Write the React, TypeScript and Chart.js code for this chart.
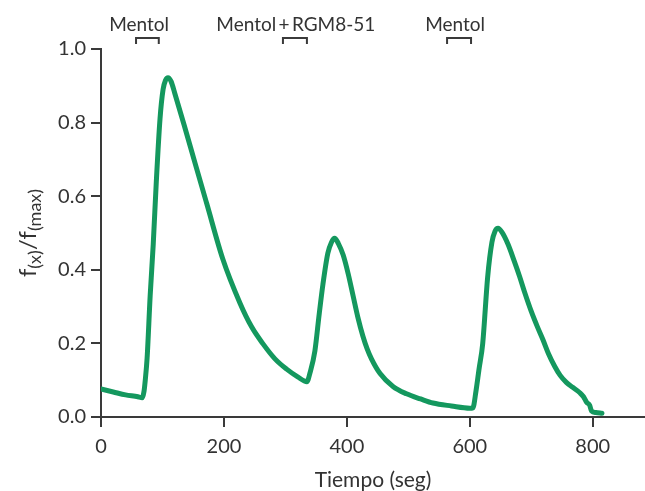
import React, { useEffect, useRef } from "react";
import { Chart, registerables } from "chart.js";

Chart.register(...registerables);

// Time (s) and normalized fluorescence f(x)/f(max)
const timeSec = [
  0, 20, 40, 60, 67, 70, 72, 75, 80, 85, 90, 96, 101, 105, 109, 114, 120, 135, 153, 172,
  198, 226, 245, 263, 283, 302, 320, 335, 340, 348, 355, 361, 369, 375, 380, 386, 394, 402,
  410, 418, 426, 433, 440, 454, 475, 497, 520, 540, 570, 600, 605, 610, 615, 621, 629, 636, 641,
  646, 652, 662, 672, 681, 690, 700, 710, 719, 728, 738, 747, 757, 768, 779, 785, 790, 795,
  798, 805, 815,
];
const ratio = [
  0.076, 0.068, 0.06, 0.055, 0.052, 0.07, 0.1, 0.16, 0.33, 0.47, 0.64, 0.81, 0.89, 0.915,
  0.922, 0.912, 0.88, 0.795, 0.69, 0.58, 0.43, 0.31, 0.245, 0.2, 0.158, 0.13, 0.109, 0.096,
  0.12, 0.18, 0.28, 0.36, 0.445, 0.475, 0.486, 0.472, 0.44, 0.39, 0.33, 0.27, 0.22, 0.185,
  0.158, 0.118, 0.083, 0.063, 0.049, 0.038, 0.03, 0.024, 0.025, 0.07, 0.13, 0.2, 0.38, 0.475,
  0.505, 0.513, 0.503, 0.47, 0.425, 0.382, 0.335, 0.287, 0.245, 0.21, 0.172, 0.138, 0.113,
  0.094, 0.08, 0.066, 0.055, 0.04, 0.032, 0.016, 0.012, 0.01,
];

const xTickValues = [0, 200, 400, 600, 800];
const yTickValues = [0, 0.2, 0.4, 0.6, 0.8, 1.0];

// Stimulus application windows (s) and their labels
const stimStart = [57, 296, 563];
const stimEnd = [94, 335, 602];
const stimLabels = ["Mentol", "Mentol\u2009+\u2009RGM8-51", "Mentol"];
const stimLabelCenter = [62, 317, 576];

const FONT = "Lato, 'Open Sans', sans-serif";
const TEXT = "#333333";
const AXIS = "#3a3a3a";
const GREEN = "#14985E";

const annotPlugin = {
  id: "annot",
  afterDraw(chart: any) {
    const { ctx, chartArea } = chart;
    const x = chart.scales.x;
    ctx.save();
    // brackets
    ctx.strokeStyle = AXIS;
    ctx.lineWidth = 2;
    for (let i = 0; i < stimStart.length; i++) {
      const a = x.getPixelForValue(stimStart[i]);
      const b = x.getPixelForValue(stimEnd[i]);
      ctx.beginPath();
      ctx.moveTo(a, 44);
      ctx.lineTo(a, 38);
      ctx.lineTo(b, 38);
      ctx.lineTo(b, 44);
      ctx.stroke();
    }
    ctx.fillStyle = TEXT;
    ctx.font = `19px ${FONT}`;
    ctx.textAlign = "center";
    ctx.textBaseline = "alphabetic";
    for (let i = 0; i < stimLabels.length; i++) {
      ctx.fillText(stimLabels[i], x.getPixelForValue(stimLabelCenter[i]), 31);
    }
    // x title
    ctx.font = `21px ${FONT}`;
    ctx.fillText("Tiempo (seg)", (chartArea.left + chartArea.right) / 2, 487);

    // y title with subscripts
    const pieces = [
      { t: "f", sub: false },
      { t: "(x)", sub: true },
      { t: "/f", sub: false },
      { t: "(max)", sub: true },
    ];
    const mainFont = `24px ${FONT}`;
    const subFont = `18px ${FONT}`;
    let total = 0;
    const widths: number[] = [];
    for (const p of pieces) {
      ctx.font = p.sub ? subFont : mainFont;
      const w = ctx.measureText(p.t).width;
      widths.push(w);
      total += w;
    }
    ctx.translate(36, (chartArea.top + chartArea.bottom) / 2);
    ctx.rotate(-Math.PI / 2);
    ctx.textAlign = "left";
    let pos = -total / 2;
    pieces.forEach((p, i) => {
      ctx.font = p.sub ? subFont : mainFont;
      ctx.fillText(p.t, pos, p.sub ? 5 : 0);
      pos += widths[i];
    });
    ctx.restore();
  },
};

export default function App() {
  const ref = useRef<HTMLCanvasElement | null>(null);

  useEffect(() => {
    document.body.style.margin = "0";
    const canvas = ref.current!;
    const chart = new Chart(canvas, {
      type: "line",
      data: {
        datasets: [
          {
            data: timeSec.map((t, i) => ({ x: t, y: ratio[i] })),
            borderColor: GREEN,
            borderWidth: 5,
            pointRadius: 0,
            fill: false,
            cubicInterpolationMode: "monotone",
            borderCapStyle: "round",
            borderJoinStyle: "round",
          },
        ],
      },
      options: {
        responsive: false,
        animation: false,
        devicePixelRatio: 1,
        layout: { padding: { left: 0, top: 49, right: 0, bottom: 0 } },
        plugins: {
          legend: { display: false },
          tooltip: { enabled: false },
        },
        scales: {
          x: {
            type: "linear",
            min: 0,
            max: 885,
            afterBuildTicks: (s: any) => {
              s.ticks = xTickValues.map((v) => ({ value: v }));
            },
            afterFit: (s: any) => {
              s.height = 74;
            },
            grid: {
              display: true,
              drawOnChartArea: false,
              drawTicks: true,
              tickLength: 10,
              color: AXIS,
              lineWidth: 2,
            },
            border: { display: true, color: AXIS, width: 2 },
            ticks: {
              color: TEXT,
              font: { family: FONT, size: 20 },
              padding: 8,
              maxRotation: 0,
              callback: (v: any) => String(v),
            },
          },
          y: {
            type: "linear",
            min: 0,
            max: 1,
            afterBuildTicks: (s: any) => {
              s.ticks = yTickValues.map((v) => ({ value: v }));
            },
            afterFit: (s: any) => {
              s.width = 101;
            },
            grid: {
              display: true,
              drawOnChartArea: false,
              drawTicks: true,
              tickLength: 10,
              color: AXIS,
              lineWidth: 2,
            },
            border: { display: true, color: AXIS, width: 2 },
            ticks: {
              color: TEXT,
              font: { family: FONT, size: 20 },
              padding: 5,
              callback: (v: any) => Number(v).toFixed(1),
            },
          },
        },
      },
      plugins: [annotPlugin],
    });
    return () => chart.destroy();
  }, []);

  return (
    <div style={{ position: "fixed", left: 0, top: 0, width: 645, height: 491 }}>
      <canvas ref={ref} width={645} height={491} />
    </div>
  );
}
